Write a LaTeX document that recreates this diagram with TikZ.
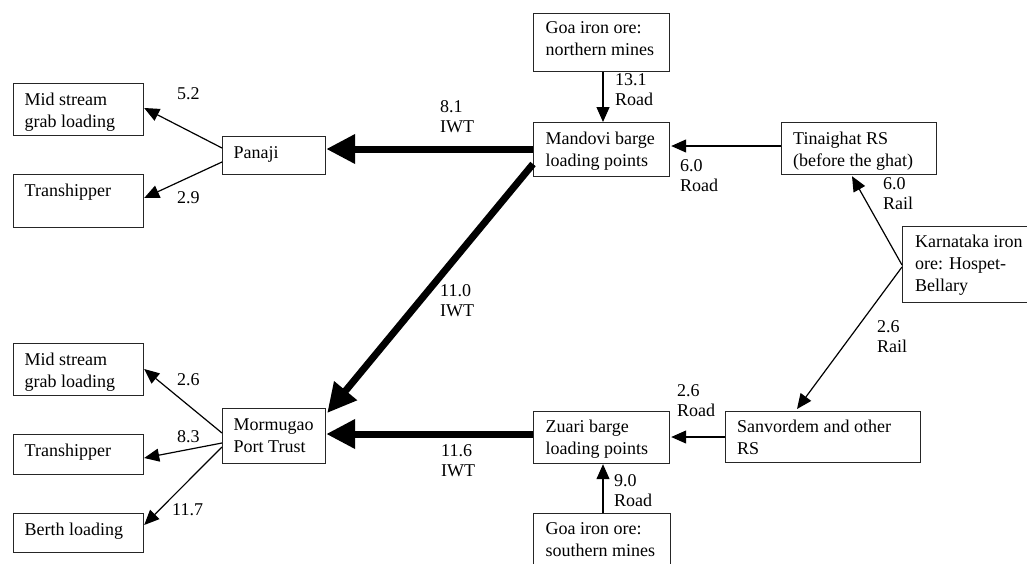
\documentclass[tikz,border=0pt]{standalone}
\usepackage{fontspec}
\setmainfont{Liberation Serif}
\usetikzlibrary{arrows.meta,calc}
\begin{document}
\begin{tikzpicture}[x=1pt,y=-1pt,
 box/.style={draw=black!85, line width=1.2pt, inner sep=0pt, anchor=north west},
 txt/.style={anchor=north west, inner sep=0pt, align=left, font=\fontsize{18}{22}\selectfont, execute at begin node={\rule{0pt}{13pt}}},
 lbl/.style={anchor=north west, inner sep=0pt, align=left, font=\fontsize{18}{20.5}\selectfont, execute at begin node={\rule{0pt}{13pt}}},
 thinarr/.style={line width=1.2pt, -{Triangle[length=15pt,width=13pt]}},
 thickarr/.style={line width=7pt, -{Triangle[length=29pt,width=28pt]}}]
\useasboundingbox (0,0) rectangle (1027,563);
% boxes
\node[box, minimum width=130pt, minimum height=52pt] (ms1) at (13,83) {};
\node[box, minimum width=130pt, minimum height=53pt] (tr1) at (13,174) {};
\node[box, minimum width=103pt, minimum height=38pt] (pan) at (222,136) {};
\node[box, minimum width=130pt, minimum height=52pt] (ms2) at (13,343) {};
\node[box, minimum width=130pt, minimum height=40pt] (tr2) at (13,434) {};
\node[box, minimum width=130pt, minimum height=39pt] (ber) at (13,513) {};
\node[box, minimum width=103pt, minimum height=55pt] (mor) at (222,408) {};
\node[box, minimum width=136pt, minimum height=58pt] (gn) at (533,13) {};
\node[box, minimum width=136pt, minimum height=54pt] (man) at (533,122) {};
\node[box, minimum width=155pt, minimum height=52pt] (tin) at (781,122) {};
\node[box, minimum width=140pt, minimum height=76pt] (kar) at (902,226) {};
\node[box, minimum width=195pt, minimum height=51pt] (san) at (725,411) {};
\node[box, minimum width=136pt, minimum height=52pt] (zua) at (533,411) {};
\node[box, minimum width=137pt, minimum height=70pt] (gs) at (533,513) {};
% box texts
\node[txt] (ms1t) at ($(ms1.north west)+(11.5,9.5)$) {Mid stream\\grab loading};
\node[txt] (tr1t) at ($(tr1.north west)+(11.5,9.5)$) {Transhipper};
\node[txt] (pant) at ($(pan.north west)+(11.5,9.5)$) {Panaji};
\node[txt] (ms2t) at ($(ms2.north west)+(11.5,9.5)$) {Mid stream\\grab loading};
\node[txt] (tr2t) at ($(tr2.north west)+(11.5,9.5)$) {Transhipper};
\node[txt] (bert) at ($(ber.north west)+(11.5,9.5)$) {Berth loading};
\node[txt] (mort) at ($(mor.north west)+(11.5,10.5)$) {Mormugao\\Port Trust};
\node[txt] (gnt) at ($(gn.north west)+(12.5,8.5)$) {Goa iron ore:\\northern mines};
\node[txt] (mant) at ($(man.north west)+(12.5,9.5)$) {Mandovi barge\\loading points};
\node[txt] (tint) at ($(tin.north west)+(12,9.5)$) {Tinaighat RS\\(before the ghat)};
\node[txt] (kart) at ($(kar.north west)+(13,9)$) {Karnataka iron\\ore: Hospet-\\Bellary};
\node[txt] (sant) at ($(san.north west)+(12,9)$) {Sanvordem and other\\RS};
\node[txt] (zuat) at ($(zua.north west)+(12.5,9)$) {Zuari barge\\loading points};
\node[txt] (gst) at ($(gs.north west)+(12.5,9)$) {Goa iron ore:\\southern mines};
% connectors
\draw[thinarr] ($(pan.north west)+(0,12)$) -- ($(ms1.north east)+(0,25)$);
\draw[thinarr] ($(pan.north west)+(0,26)$) -- ($(tr1.north east)+(0,24)$);
\draw[thickarr] ($(man.north west)+(0,27)$) -- ($(pan.north east)+(0,13)$);
\draw[thickarr] ($(man.north west)+(0,42)$) -- ($(mor.north east)+(1,5)$);
\draw[thickarr] ($(zua.north west)+(0,23)$) -- ($(mor.north east)+(0,26)$);
\draw[thinarr] ($(mor.north west)+(0,25)$) -- ($(ms2.north east)+(0,26)$);
\draw[thinarr] ($(mor.north west)+(0,35)$) -- ($(tr2.north east)+(0,24)$);
\draw[thinarr] ($(mor.north west)+(0,39)$) -- ($(ber.north east)+(0,12)$);
\draw[thinarr] ($(gn.south west)+(70,0)$) -- ($(man.north west)+(70,0)$);
\draw[thinarr] ($(tin.north west)+(0,24)$) -- ($(man.north east)+(1,24)$);
\draw[thinarr] ($(kar.north west)+(0,39)$) -- ($(tin.south west)+(71,1)$);
\draw[thinarr] ($(kar.north west)+(0,41)$) -- ($(san.north west)+(72,-2)$);
\draw[thinarr] ($(san.north west)+(0,26)$) -- ($(zua.north east)+(1,26)$);
\draw[thinarr] ($(gs.north west)+(70,0)$) -- ($(zua.south west)+(70,0)$);
% labels
\node[lbl] (l1) at (177,86) {5.2};
\node[lbl] (l2) at (177,190) {2.9};
\node[lbl] (l3) at (440,100) {8.1\\IWT};
\node[lbl] (l4) at (440,284) {11.0\\IWT};
\node[lbl] (l5) at (441,444) {11.6\\IWT};
\node[lbl] (l6) at (177,372) {2.6};
\node[lbl] (l7) at (177,429) {8.3};
\node[lbl] (l8) at (172,502) {11.7};
\node[lbl] (l9) at (615,73) {13.1\\Road};
\node[lbl] (l10) at (680,159) {6.0\\Road};
\node[lbl] (l11) at (883,177) {6.0\\Rail};
\node[lbl] (l12) at (877,320) {2.6\\Rail};
\node[lbl] (l13) at (677,384) {2.6\\Road};
\node[lbl] (l14) at (614,474) {9.0\\Road};
\end{tikzpicture}
\end{document}
